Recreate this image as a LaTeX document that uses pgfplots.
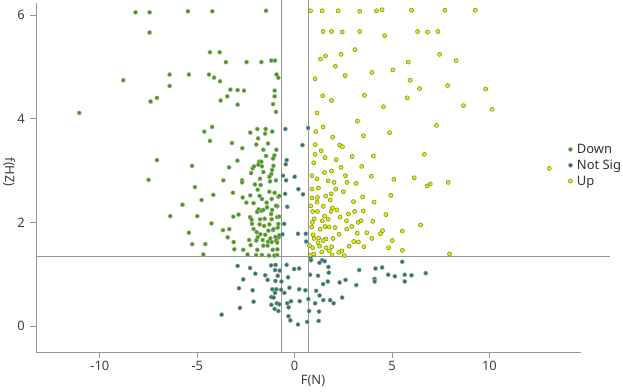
\documentclass[border=0pt]{standalone}
\usepackage{pgfplots}
\pgfplotsset{compat=1.18}
\usepackage{fontspec}
\setmainfont{Noto Sans}
\definecolor{downfill}{RGB}{78,146,44}
\definecolor{downedge}{RGB}{150,190,120}
\definecolor{nsfill}{RGB}{46,108,150}
\definecolor{nsedge}{RGB}{140,180,100}
\definecolor{upfill}{RGB}{226,236,0}
\definecolor{upedge}{RGB}{120,135,40}
\definecolor{axgray}{RGB}{150,150,150}
\begin{document}
\begin{tikzpicture}[font=\fontsize{13}{15}\selectfont, x=1bp, y=1bp]
\begin{axis}[
  at={(36.4bp,40bp)}, anchor=south west,
  scale only axis, width=544.6bp, height=349bp,
  xmin=-13.26, xmax=14.7, ymin=-0.5, ymax=6.23,
  axis lines=left,
  axis line style={-, draw=axgray, line width=0.8bp},
  tick style={draw=axgray, line width=0.8bp},
  tick align=outside, major tick length=6bp,
  xtick={-10,-5,0,5,10}, ytick={0,2,4,6},
  /pgf/number format/assume math mode=true,
  ticklabel style={font=\fontsize{13}{15}\selectfont, text=black!75},
  yticklabel style={xshift=-2bp},
  xlabel={F(N)}, ylabel={f(HZ)},
  xlabel style={at={(axis description cs:0.508,-0.083)}, anchor=center, text=black!75},
  ylabel style={at={(axis description cs:-0.05,0.515)}, anchor=center, rotate=180, text=black!75},
  clip=false,
  legend style={at={(axis description cs:0.9747,0.535)}, anchor=west, draw=none, fill=none,
    font=\fontsize{13}{15}\selectfont, row sep=1bp, inner sep=0pt,
    nodes={text=black!80}},
  legend cell align=left,
  legend image code/.code={\draw[#1] plot coordinates {(0.1cm,0cm)}; \path (0cm,0cm) (0.25cm,0cm);},
]
\draw[axgray, line width=0.8bp] (axis cs:-0.68,-0.5) -- (axis cs:-0.68,6.3);
\draw[axgray, line width=0.8bp] (axis cs:0.68,-0.5) -- (axis cs:0.68,6.3);
\draw[axgray, line width=0.8bp] (axis cs:-13.26,1.35) -- (axis cs:16.2,1.35);

\addplot[only marks, mark=*, mark size=2.05bp, mark options={fill=downfill, draw=downedge, line width=0.5bp}] coordinates {
(-8.17,6.05) (-7.45,6.05) (-7.45,5.66) (-5.48,6.07) (-4.23,6.07) (-1.47,6.08)
(-4.35,5.28) (-3.85,5.28) (-3.53,5.09) (-2.47,5.09) (-1.71,5.09) (-1.20,5.12) (-1.01,5.12)
(-8.80,4.74) (-6.42,4.85) (-5.43,4.85) (-4.40,4.85) (-4.14,4.79) (-3.83,4.72) (-0.93,4.85) (-0.84,4.79)
(-6.42,4.63) (-3.30,4.56) (-2.93,4.55) (-2.60,4.54) (-1.03,4.54) (-7.07,4.40) (-7.40,4.33)
(-3.46,4.43) (-3.80,4.35) (-1.03,4.43) (-2.93,4.27) (-1.11,4.28) (-0.96,4.13) (-11.06,4.11)
(-4.24,3.84) (-1.92,3.80) (-1.49,3.80) (-4.64,3.75) (-4.35,3.57) (-3.22,3.53) (-2.69,3.43)
(-2.28,3.73) (-1.52,3.71) (-1.15,3.75) (-1.88,3.62) (-1.97,3.50) (-1.37,3.52) (-1.61,3.40)
(-0.94,3.40) (-1.47,3.28) (-1.04,3.29) (-1.11,3.23) (-7.07,3.20) (-5.27,3.09) (-2.94,3.19)
(-3.37,3.06) (-1.83,3.17) (-1.71,3.17) (-2.16,3.04) (-2.09,3.08) (-1.87,3.11) (-1.68,3.08)
(-2.24,2.95) (-1.61,2.97) (-1.09,3.09) (-1.16,3.01) (-1.20,2.93) (-1.30,2.88) (-1.78,2.84)
(-1.26,2.79) (-0.96,2.81) (-2.70,2.81) (-2.70,2.77) (-3.66,2.81) (-7.50,2.82) (-2.04,2.73)
(-1.75,2.72) (-1.90,2.63) (-5.12,2.68) (-4.18,2.53) (-3.17,2.57) (-2.28,2.52) (-2.67,2.48)
(-1.80,2.51) (-1.30,2.59) (-1.03,2.57) (-4.78,2.43) (-2.48,2.38) (-2.11,2.37) (-1.68,2.45)
(-1.44,2.38) (-1.18,2.45) (-0.84,2.49) (-5.76,2.34) (-1.42,2.29) (-1.16,2.24) (-1.85,2.25)
(-0.89,2.31) (-1.93,2.20) (-1.71,2.22) (-1.61,2.24) (-1.21,2.16) (-6.39,2.12) (-5.00,2.12)
(-3.15,2.11) (-2.88,2.15) (-2.29,2.10) (-2.21,2.05) (-1.78,2.06) (-1.54,2.07) (-1.18,2.06)
(-0.90,2.10) (-2.19,1.97) (-1.80,1.96) (-1.57,1.93) (-1.30,1.96) (-0.84,1.97) (-4.27,1.98)
(-3.68,1.85) (-3.36,1.87) (-2.11,1.87) (-1.95,1.81) (-1.76,1.77) (-1.35,1.84) (-1.11,1.85)
(-0.87,1.90) (-5.43,1.80) (-3.44,1.71) (-1.90,1.71) (-1.51,1.76) (-1.25,1.69) (-0.99,1.72)
(-0.82,1.71) (-3.13,1.62) (-2.34,1.66) (-1.97,1.65) (-1.64,1.66) (-1.37,1.63) (-1.18,1.62)
(-0.96,1.65) (-5.26,1.58) (-4.59,1.58) (-3.10,1.48) (-2.64,1.47) (-2.26,1.56) (-1.92,1.47)
(-1.61,1.55) (-1.39,1.55) (-1.13,1.47) (-0.89,1.48) (-4.69,1.38) (-2.42,1.38) (-1.98,1.37)
(-1.68,1.37) (-1.32,1.36) (-1.04,1.36) (-0.90,1.37) (-0.79,2.51) (-0.96,2.32) (-0.80,2.11)
(-1.09,1.87) (-0.79,1.75) (-0.90,1.61)
};
\addlegendentry{Down}

\addplot[only marks, mark=*, mark size=2.05bp, mark options={fill=nsfill, draw=nsedge, line width=0.5bp}] coordinates {
(-0.48,3.80) (0.69,3.82) (0.40,3.49) (-0.41,3.20) (-0.46,3.12) (-0.60,2.90) (0.00,2.88)
(-0.44,2.81) (0.19,2.64) (-0.49,2.55) (0.43,2.54) (-0.38,2.30) (-0.54,1.97) (-0.63,1.77)
(0.17,1.78) (0.57,1.78) (0.59,1.63) (0.82,1.31)
(-0.41,1.18) (0.84,1.27) (1.27,1.22) (1.41,1.27) (1.54,1.25) (1.73,1.14) (1.75,1.03)
(-0.03,1.10) (0.23,1.11) (0.79,0.99) (1.20,0.97) (-0.34,0.94) (1.46,0.81) (1.70,0.86)
(2.31,0.84) (2.61,0.89) (3.16,0.79) (3.31,1.08) (4.15,1.11) (4.49,1.13) (4.80,0.99)
(5.14,0.96) (5.65,0.99) (6.00,0.98) (6.73,1.02) (5.52,1.24) (5.65,0.86) (4.10,0.91)
(4.11,0.86) (-0.27,0.74) (0.23,0.71) (0.55,0.69) (1.10,0.68) (1.28,0.59) (2.44,0.55)
(1.82,0.50) (2.00,0.44) (1.47,0.50) (0.70,0.52) (1.05,0.44) (-0.53,0.64) (-0.19,0.48)
(0.26,0.48) (-0.38,0.44) (-0.31,0.36) (0.74,0.29) (1.25,0.28) (-0.32,0.19) (-0.22,0.11)
(0.64,0.08) (1.23,0.10) (0.17,0.03)
(-1.21,1.17) (-0.98,1.18) (-1.01,1.08) (-0.77,1.07) (-0.87,0.97) (-0.99,0.87) (-0.68,0.86)
(-1.51,0.98) (-1.39,0.89) (-1.15,0.71) (-0.94,0.71) (-0.70,0.70) (-1.01,0.64) (-1.20,0.56)
(-1.08,0.55) (-0.92,0.44) (-0.79,0.42) (-1.20,0.41) (-1.03,0.33) (-0.84,0.29)
(-2.93,1.16) (-2.29,1.12) (-2.02,1.01) (-2.64,0.90) (-2.86,0.73) (-2.16,0.69) (-2.11,0.47)
(-2.81,0.35) (-3.75,0.22)
};
\addlegendentry{Not Sig}

\addplot[only marks, mark=*, mark size=2.05bp, mark options={fill=upfill, draw=upedge, line width=0.5bp}] coordinates {
(0.81,6.08) (1.41,6.08) (2.23,6.08) (3.34,6.07) (4.20,6.08) (4.49,6.10) (6.00,6.09)
(7.71,6.09) (9.27,6.09) (1.46,5.68) (1.89,5.68) (2.44,5.67) (3.34,5.68) (4.62,5.60)
(6.31,5.68) (6.82,5.67) (7.35,5.68) (3.10,5.33) (2.38,5.24) (1.58,5.21) (1.32,5.15)
(2.09,5.01) (7.44,5.24) (8.29,5.12) (5.83,5.09) (1.05,4.77) (2.59,4.83) (3.96,4.89)
(5.04,4.94) (5.93,4.74) (6.41,4.58) (7.85,4.64) (9.80,4.57) (1.44,4.44) (1.89,4.35)
(3.58,4.45) (5.78,4.40) (4.56,4.23) (8.67,4.25) (10.14,4.18) (1.15,4.11) (3.22,3.95)
(7.28,3.87) (1.46,3.84) (6.66,3.31) (13.07,3.04) (6.80,2.70) (6.96,2.74) (7.88,2.77)
(6.46,1.95) (7.95,1.39)
(1.08,3.75) (1.95,3.64) (3.53,3.67) (4.87,3.73) (2.31,3.49) (2.45,3.46) (1.06,3.50)
(1.36,3.38) (1.05,3.31) (1.56,3.25) (2.13,3.21) (2.95,3.27) (4.04,3.28) (0.98,3.15)
(1.89,2.99) (1.53,2.96) (2.38,3.06) (3.44,3.08) (0.89,2.90) (1.15,2.84) (1.72,2.80)
(2.02,2.77) (2.61,2.90) (3.94,2.89) (2.69,2.77) (3.16,2.75) (5.09,2.83) (6.14,2.86)
(0.89,2.64) (1.22,2.66) (2.11,2.64) (2.50,2.59) (1.87,2.55) (1.59,2.51) (0.89,2.47)
(1.17,2.48) (1.83,2.43) (3.02,2.40) (3.49,2.49) (4.08,2.39) (4.93,2.52) (1.15,2.39)
(1.47,2.31) (1.94,2.28) (0.82,2.32) (0.92,2.21) (1.17,2.21) (1.53,2.12) (1.87,2.21)
(2.16,2.24) (2.33,2.10) (2.76,2.16) (3.08,2.21) (3.52,2.22) (4.68,2.15) (1.00,2.07)
(0.91,2.00) (1.42,2.03) (1.72,2.06) (2.66,2.03) (3.26,2.00) (3.41,2.03) (4.01,2.02)
(0.87,1.91) (1.31,1.87) (1.56,1.92) (1.77,1.91) (2.08,1.90) (2.67,1.87) (2.93,1.92)
(3.21,1.79) (3.70,1.80) (2.28,1.77) (0.95,1.76) (4.51,1.84) (4.40,1.78) (5.53,1.83)
(1.00,1.69) (1.23,1.70) (1.61,1.68) (1.97,1.69) (1.20,1.61) (1.46,1.65) (1.28,1.54)
(1.61,1.51) (1.90,1.53) (2.80,1.54) (3.03,1.63) (3.27,1.62) (3.96,1.69) (5.01,1.65)
(0.92,1.51) (0.76,1.55) (3.55,1.53) (4.82,1.51) (5.53,1.46) (1.39,1.43) (1.78,1.45)
(2.26,1.42) (2.42,1.45) (1.92,1.37) (0.81,1.37) (0.98,1.39) (2.55,1.36)
};
\addlegendentry{Up}
\end{axis}
\pgfresetboundingbox
\path[use as bounding box] (0bp,0bp) rectangle (623bp,392bp);
\end{tikzpicture}
\end{document}
